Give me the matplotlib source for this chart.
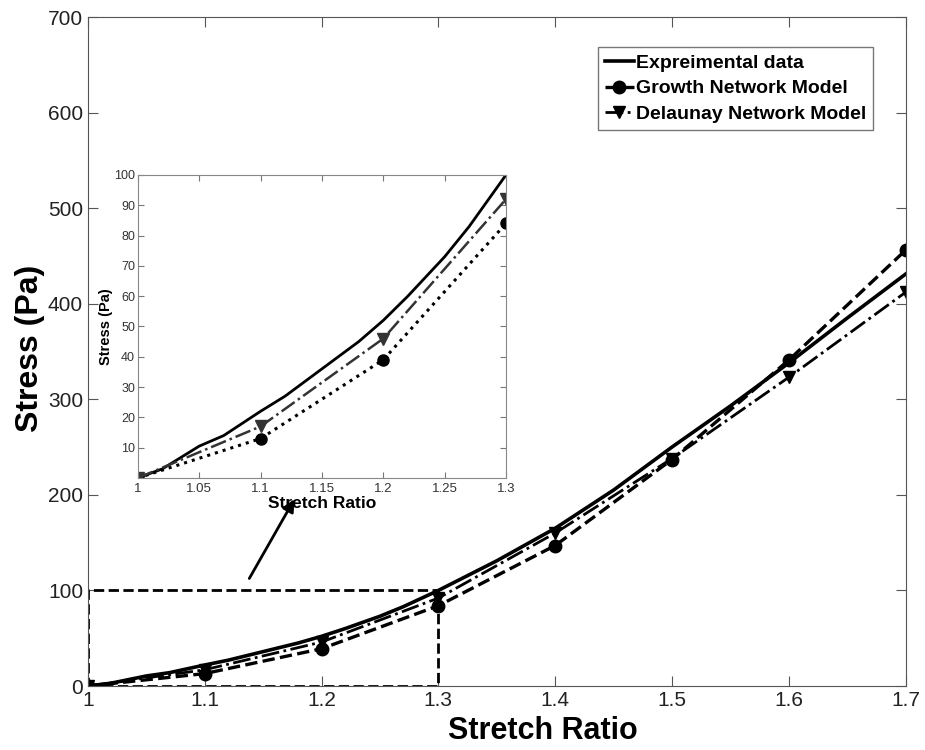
import numpy as np
import matplotlib.pyplot as plt

plt.rcParams['font.family'] = ['Liberation Sans', 'DejaVu Sans']

# experimental curve (dense)
exp_x = [1.0, 1.02, 1.04, 1.05, 1.07, 1.1, 1.12, 1.15, 1.17, 1.18, 1.2, 1.22, 1.25, 1.27,
         1.3, 1.35, 1.4, 1.45, 1.5, 1.55, 1.6, 1.65, 1.7]
exp_y = [0, 3, 8, 10.5, 14, 22, 27, 36, 42, 45, 52, 60, 73, 83,
         100, 131, 165, 205, 250, 293, 338, 385, 431]

# model points
model_x = [1.0, 1.1, 1.2, 1.3, 1.4, 1.5, 1.6, 1.7]
growth_y = [0, 13, 39, 84, 147, 237, 341, 456]
delaunay_y = [0, 17, 46, 92, 160, 238, 323, 412]

fig = plt.figure(figsize=(9.25, 7.5), dpi=100)
ax = fig.add_axes([0.095, 0.0853, 0.884, 0.892])

ax.plot(exp_x, exp_y, '-', color='black', lw=2.6, label='Expreimental data')
ax.plot(model_x, growth_y, '--', color='black', lw=2.4, marker='o', ms=9,
        label='Growth Network Model')
ax.plot(model_x, delaunay_y, '-.', color='black', lw=2.0, marker='v', ms=9,
        label='Delaunay Network Model')

# zoom box and arrow
ax.plot([1.0, 1.3, 1.3, 1.0, 1.0], [0, 0, 100, 100, 0], '--', color='black', lw=2)
ax.annotate('', xy=(1.178, 198), xytext=(1.137, 110),
            arrowprops=dict(arrowstyle='-|>', color='black', lw=2, mutation_scale=18))

ax.set_xlim(1, 1.7)
ax.set_ylim(0, 700)
ax.set_xticks(np.arange(1, 1.71, 0.1))
ax.set_xticklabels(['1', '1.1', '1.2', '1.3', '1.4', '1.5', '1.6', '1.7'])
ax.set_yticks(np.arange(0, 701, 100))
ax.tick_params(direction='in', top=True, right=True, labelsize=15, length=7,
               color='#555555', labelcolor='#222222')
for s in ax.spines.values():
    s.set_color('#555555')
ax.set_xlabel('Stretch Ratio', fontsize=22, fontweight='bold')
ax.xaxis.set_label_coords(0.556, -0.045)
ax.set_ylabel('Stress (Pa)', fontsize=23, fontweight='bold')
ax.yaxis.set_label_coords(-0.053, 0.505)

leg = ax.legend(loc='upper right', bbox_to_anchor=(0.960, 0.955),
                prop={'weight': 'bold', 'size': 14}, handlelength=1.5,
                handletextpad=0.1, labelspacing=0.42, fancybox=False,
                borderpad=0.35, borderaxespad=0)
leg.get_frame().set_edgecolor('#555555')
leg.get_frame().set_linewidth(1)

# inset
ins = fig.add_axes([0.149, 0.3627, 0.398, 0.404])
ins_exp_x = [x for x in exp_x if x <= 1.3]
ins_exp_y = exp_y[:len(ins_exp_x)]
ins.plot(ins_exp_x, ins_exp_y, '-', color='black', lw=2)
ins.plot(model_x[:4], growth_y[:4], ':', color='black', lw=2.2, marker='o', ms=8)
ins.plot(model_x[:4], delaunay_y[:4], '-.', color='#333333', lw=1.8, marker='v', ms=8)
ins.set_xlim(1, 1.3)
ins.set_ylim(0, 100)
ins.set_xticks([1, 1.05, 1.1, 1.15, 1.2, 1.25, 1.3])
ins.set_xticklabels(['1', '1.05', '1.1', '1.15', '1.2', '1.25', '1.3'])
ins.set_yticks(np.arange(10, 101, 10))
ins.tick_params(direction='in', top=True, right=True, labelsize=9.5, length=4,
                color='#777777', labelcolor='#333333')
ins.tick_params(axis='y', labelsize=9, pad=2)
for s in ins.spines.values():
    s.set_color('#888888')
ins.set_xlabel('Stretch Ratio', fontsize=12.5, fontweight='bold', labelpad=1)
ins.set_ylabel('Stress (Pa)', fontsize=10.5, fontweight='bold', labelpad=1)

fig.savefig('out.png', dpi=100)
